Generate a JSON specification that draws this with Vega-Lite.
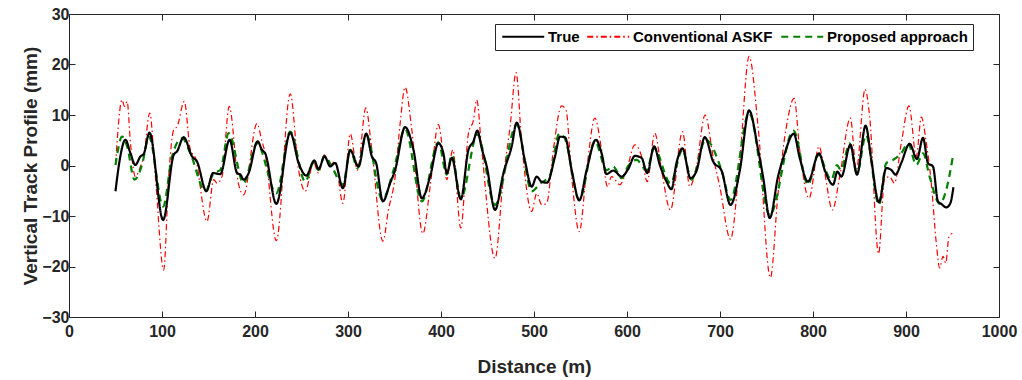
{
  "$schema": "https://vega.github.io/schema/vega-lite/v6.json",
  "autosize": {"type": "none"},
  "padding": {"left": 69, "top": 14, "right": 23, "bottom": 63},
  "width": 930,
  "height": 303,
  "background": "white",
  "config": {
    "view": {"stroke": null},
    "axis": {"domainColor": "#262626", "tickColor": "#262626", "labelColor": "#262626", "titleColor": "#262626", "labelFont": "Liberation Sans", "titleFont": "Liberation Sans", "labelFontWeight": "bold", "titleFontWeight": "bold", "labelFontSize": 16, "titleFontSize": 19, "grid": false, "tickSize": -6, "domainWidth": 1, "tickWidth": 1},
    "legend": {"orient": "none", "legendX": 426, "legendY": 10, "direction": "horizontal", "symbolType": "M-1,0H7", "symbolSize": 110, "symbolStrokeWidth": 2, "labelOffset": 33, "columnPadding": 3, "padding": 5, "strokeColor": "#262626", "fillColor": "white", "labelFont": "Liberation Sans", "labelFontWeight": "bold", "labelFontSize": 15, "labelColor": "#000000"}
  },
  "data": {"values": [
    {"s":"Conventional ASKF","d":50,"v":0.1},{"s":"Conventional ASKF","d":57.1,"v":13.0},{"s":"Conventional ASKF","d":59.6,"v":11.7},{"s":"Conventional ASKF","d":62.5,"v":12.7},{"s":"Conventional ASKF","d":66.1,"v":4.4},{"s":"Conventional ASKF","d":71.4,"v":-2.2},{"s":"Conventional ASKF","d":76.8,"v":-0.2},{"s":"Conventional ASKF","d":80.4,"v":1.8},{"s":"Conventional ASKF","d":86.8,"v":10.4},{"s":"Conventional ASKF","d":92.9,"v":-2.2},{"s":"Conventional ASKF","d":101.8,"v":-20.7},{"s":"Conventional ASKF","d":107.2,"v":-2.2},{"s":"Conventional ASKF","d":112.6,"v":7.1},{"s":"Conventional ASKF","d":116.2,"v":7.7},{"s":"Conventional ASKF","d":124.0,"v":12.7},{"s":"Conventional ASKF","d":130.5,"v":3.1},{"s":"Conventional ASKF","d":135.9,"v":1.5},{"s":"Conventional ASKF","d":148.4,"v":-11.1},{"s":"Conventional ASKF","d":155.6,"v":-2.8},{"s":"Conventional ASKF","d":159.2,"v":-3.5},{"s":"Conventional ASKF","d":164.5,"v":-2.2},{"s":"Conventional ASKF","d":172.3,"v":11.7},{"s":"Conventional ASKF","d":182.4,"v":-3.8},{"s":"Conventional ASKF","d":187.8,"v":-5.8},{"s":"Conventional ASKF","d":202.1,"v":8.3},{"s":"Conventional ASKF","d":207.5,"v":4.8},{"s":"Conventional ASKF","d":211,"v":2.4},{"s":"Conventional ASKF","d":222.9,"v":-14.9},{"s":"Conventional ASKF","d":237.9,"v":14.2},{"s":"Conventional ASKF","d":246.9,"v":-0.9},{"s":"Conventional ASKF","d":254.0,"v":-5.1},{"s":"Conventional ASKF","d":263,"v":0.6},{"s":"Conventional ASKF","d":268.3,"v":-1.5},{"s":"Conventional ASKF","d":274.4,"v":2.1},{"s":"Conventional ASKF","d":280.9,"v":0.1},{"s":"Conventional ASKF","d":286.2,"v":0.8},{"s":"Conventional ASKF","d":294.5,"v":-7.5},{"s":"Conventional ASKF","d":302.4,"v":6.3},{"s":"Conventional ASKF","d":310.2,"v":-0.9},{"s":"Conventional ASKF","d":319.2,"v":11.4},{"s":"Conventional ASKF","d":325.6,"v":3.1},{"s":"Conventional ASKF","d":337.5,"v":-15.0},{"s":"Conventional ASKF","d":343.5,"v":-8.8},{"s":"Conventional ASKF","d":350.7,"v":-2.2},{"s":"Conventional ASKF","d":356.1,"v":8.4},{"s":"Conventional ASKF","d":361.4,"v":15.5},{"s":"Conventional ASKF","d":368.6,"v":7.1},{"s":"Conventional ASKF","d":380.5,"v":-13.5},{"s":"Conventional ASKF","d":388.3,"v":-4.2},{"s":"Conventional ASKF","d":397.2,"v":8.1},{"s":"Conventional ASKF","d":401.8,"v":3.1},{"s":"Conventional ASKF","d":406.2,"v":-2.8},{"s":"Conventional ASKF","d":412.7,"v":3.1},{"s":"Conventional ASKF","d":421.3,"v":-12.4},{"s":"Conventional ASKF","d":429.5,"v":6.4},{"s":"Conventional ASKF","d":434.9,"v":9.0},{"s":"Conventional ASKF","d":438.4,"v":13.0},{"s":"Conventional ASKF","d":443.8,"v":3.1},{"s":"Conventional ASKF","d":458.1,"v":-18.4},{"s":"Conventional ASKF","d":467.1,"v":-2.2},{"s":"Conventional ASKF","d":474.3,"v":7.7},{"s":"Conventional ASKF","d":480.7,"v":18.4},{"s":"Conventional ASKF","d":486.8,"v":4.4},{"s":"Conventional ASKF","d":497.5,"v":-9.1},{"s":"Conventional ASKF","d":502.9,"v":-5.5},{"s":"Conventional ASKF","d":508.3,"v":-7.8},{"s":"Conventional ASKF","d":513.6,"v":-7.5},{"s":"Conventional ASKF","d":520.8,"v":3.1},{"s":"Conventional ASKF","d":529.7,"v":11.8},{"s":"Conventional ASKF","d":534.4,"v":11.0},{"s":"Conventional ASKF","d":540.5,"v":-2.2},{"s":"Conventional ASKF","d":548.7,"v":-13.1},{"s":"Conventional ASKF","d":556.6,"v":-0.9},{"s":"Conventional ASKF","d":565.5,"v":9.4},{"s":"Conventional ASKF","d":572.7,"v":3.1},{"s":"Conventional ASKF","d":579.1,"v":-4.2},{"s":"Conventional ASKF","d":583.4,"v":-2.2},{"s":"Conventional ASKF","d":592.4,"v":-3.8},{"s":"Conventional ASKF","d":599.6,"v":-0.9},{"s":"Conventional ASKF","d":608.5,"v":4.1},{"s":"Conventional ASKF","d":615.7,"v":1.8},{"s":"Conventional ASKF","d":621.7,"v":-3.2},{"s":"Conventional ASKF","d":629.9,"v":6.4},{"s":"Conventional ASKF","d":637.1,"v":-0.9},{"s":"Conventional ASKF","d":646.7,"v":-8.8},{"s":"Conventional ASKF","d":659.7,"v":6.7},{"s":"Conventional ASKF","d":667.5,"v":-4.2},{"s":"Conventional ASKF","d":674.7,"v":-0.2},{"s":"Conventional ASKF","d":684,"v":10.0},{"s":"Conventional ASKF","d":692.6,"v":1.8},{"s":"Conventional ASKF","d":699.8,"v":-4.2},{"s":"Conventional ASKF","d":711.3,"v":-14.6},{"s":"Conventional ASKF","d":721.3,"v":1.1},{"s":"Conventional ASKF","d":731.3,"v":21.6},{"s":"Conventional ASKF","d":741,"v":7.6},{"s":"Conventional ASKF","d":754.2,"v":-22.2},{"s":"Conventional ASKF","d":762.4,"v":-5.5},{"s":"Conventional ASKF","d":771.4,"v":7.7},{"s":"Conventional ASKF","d":779.7,"v":13.3},{"s":"Conventional ASKF","d":785.7,"v":3.1},{"s":"Conventional ASKF","d":795.7,"v":-6.5},{"s":"Conventional ASKF","d":806.5,"v":3.8},{"s":"Conventional ASKF","d":812.6,"v":-1.5},{"s":"Conventional ASKF","d":820.9,"v":-8.8},{"s":"Conventional ASKF","d":828.7,"v":-2.2},{"s":"Conventional ASKF","d":840.2,"v":9.4},{"s":"Conventional ASKF","d":846.6,"v":-0.9},{"s":"Conventional ASKF","d":856,"v":15.1},{"s":"Conventional ASKF","d":860.9,"v":9.7},{"s":"Conventional ASKF","d":870.5,"v":-17.5},{"s":"Conventional ASKF","d":876.9,"v":-2.8},{"s":"Conventional ASKF","d":882.2,"v":-2.2},{"s":"Conventional ASKF","d":887.6,"v":-3.5},{"s":"Conventional ASKF","d":894.9,"v":4.4},{"s":"Conventional ASKF","d":903.2,"v":11.8},{"s":"Conventional ASKF","d":911.1,"v":1.8},{"s":"Conventional ASKF","d":916.5,"v":9.6},{"s":"Conventional ASKF","d":921.9,"v":4.4},{"s":"Conventional ASKF","d":927.2,"v":-3.5},{"s":"Conventional ASKF","d":932.6,"v":-15.4},{"s":"Conventional ASKF","d":936.2,"v":-20.3},{"s":"Conventional ASKF","d":939.8,"v":-18.0},{"s":"Conventional ASKF","d":942.7,"v":-19.3},{"s":"Conventional ASKF","d":946.2,"v":-14.1},{"s":"Conventional ASKF","d":949.8,"v":-13.4},
    {"s":"Proposed approach","d":50,"v":0.1},{"s":"Proposed approach","d":57.1,"v":5.7},{"s":"Proposed approach","d":62.5,"v":3.8},{"s":"Proposed approach","d":70.4,"v":-2.8},{"s":"Proposed approach","d":78.6,"v":0.2},{"s":"Proposed approach","d":85.8,"v":5.7},{"s":"Proposed approach","d":101.2,"v":-8.1},{"s":"Proposed approach","d":110.8,"v":1.8},{"s":"Proposed approach","d":121.6,"v":5.4},{"s":"Proposed approach","d":130.5,"v":2.4},{"s":"Proposed approach","d":146.6,"v":-5.1},{"s":"Proposed approach","d":155.6,"v":-1.5},{"s":"Proposed approach","d":162.7,"v":-0.9},{"s":"Proposed approach","d":171.7,"v":6.4},{"s":"Proposed approach","d":187.8,"v":-3.5},{"s":"Proposed approach","d":202.1,"v":4.4},{"s":"Proposed approach","d":222.9,"v":-5.5},{"s":"Proposed approach","d":237.9,"v":6.7},{"s":"Proposed approach","d":254,"v":-3.2},{"s":"Proposed approach","d":263,"v":0.5},{"s":"Proposed approach","d":268.3,"v":-0.9},{"s":"Proposed approach","d":274.8,"v":1.9},{"s":"Proposed approach","d":282,"v":0},{"s":"Proposed approach","d":294.5,"v":-3.8},{"s":"Proposed approach","d":302.4,"v":3.1},{"s":"Proposed approach","d":310.2,"v":-0.5},{"s":"Proposed approach","d":319.6,"v":6.1},{"s":"Proposed approach","d":337,"v":-6.8},{"s":"Proposed approach","d":349,"v":-0.9},{"s":"Proposed approach","d":361.4,"v":7.2},{"s":"Proposed approach","d":379.4,"v":-7.1},{"s":"Proposed approach","d":397.2,"v":4.6},{"s":"Proposed approach","d":406.2,"v":-1.8},{"s":"Proposed approach","d":411.6,"v":2.1},{"s":"Proposed approach","d":421.3,"v":-6.5},{"s":"Proposed approach","d":439.1,"v":6.1},{"s":"Proposed approach","d":458.1,"v":-7.8},{"s":"Proposed approach","d":481.4,"v":8.1},{"s":"Proposed approach","d":497.5,"v":-5.1},{"s":"Proposed approach","d":506.4,"v":-3.6},{"s":"Proposed approach","d":517,"v":-2.0},{"s":"Proposed approach","d":527.2,"v":6.3},{"s":"Proposed approach","d":533,"v":5.4},{"s":"Proposed approach","d":548.7,"v":-6.8},{"s":"Proposed approach","d":565.5,"v":4.8},{"s":"Proposed approach","d":578,"v":-0.9},{"s":"Proposed approach","d":585.2,"v":-0.2},{"s":"Proposed approach","d":594.2,"v":-2.5},{"s":"Proposed approach","d":601,"v":-0.2},{"s":"Proposed approach","d":610.3,"v":1.1},{"s":"Proposed approach","d":621,"v":-0.9},{"s":"Proposed approach","d":629.2,"v":3.4},{"s":"Proposed approach","d":646.7,"v":-3.5},{"s":"Proposed approach","d":659.7,"v":3.1},{"s":"Proposed approach","d":669.3,"v":-2.8},{"s":"Proposed approach","d":684.7,"v":5.1},{"s":"Proposed approach","d":701.6,"v":-0.9},{"s":"Proposed approach","d":711.3,"v":-6.8},{"s":"Proposed approach","d":731.3,"v":10.4},{"s":"Proposed approach","d":753.5,"v":-9.8},{"s":"Proposed approach","d":779,"v":6.9},{"s":"Proposed approach","d":794.6,"v":-3.8},{"s":"Proposed approach","d":805.4,"v":2.1},{"s":"Proposed approach","d":819.8,"v":-2.8},{"s":"Proposed approach","d":825.8,"v":0.1},{"s":"Proposed approach","d":830,"v":-0.9},{"s":"Proposed approach","d":839.5,"v":4.4},{"s":"Proposed approach","d":847.3,"v":-1.5},{"s":"Proposed approach","d":857,"v":6.0},{"s":"Proposed approach","d":870.9,"v":-7.8},{"s":"Proposed approach","d":878.8,"v":0.5},{"s":"Proposed approach","d":886,"v":1.1},{"s":"Proposed approach","d":894.9,"v":2.4},{"s":"Proposed approach","d":902.1,"v":4.4},{"s":"Proposed approach","d":911.1,"v":0.1},{"s":"Proposed approach","d":918.3,"v":2.4},{"s":"Proposed approach","d":925.4,"v":-2.2},{"s":"Proposed approach","d":936.2,"v":-7.6},{"s":"Proposed approach","d":943.3,"v":-4.8},{"s":"Proposed approach","d":950.4,"v":1.8},
    {"s":"True","d":50,"v":-5.1},{"s":"True","d":54,"v":0.5},{"s":"True","d":60.7,"v":5.1},{"s":"True","d":66.1,"v":2.4},{"s":"True","d":71.4,"v":0.1},{"s":"True","d":76.8,"v":1.8},{"s":"True","d":80.4,"v":2.3},{"s":"True","d":86.5,"v":6.5},{"s":"True","d":101.2,"v":-10.8},{"s":"True","d":112.6,"v":2.1},{"s":"True","d":116.2,"v":2.8},{"s":"True","d":123.3,"v":5.6},{"s":"True","d":132.3,"v":1.8},{"s":"True","d":137.6,"v":0.8},{"s":"True","d":147.7,"v":-5.1},{"s":"True","d":154.9,"v":-1.5},{"s":"True","d":162.7,"v":-1.7},{"s":"True","d":172.7,"v":5.1},{"s":"True","d":180.7,"v":-1.5},{"s":"True","d":184.3,"v":-1.8},{"s":"True","d":187.8,"v":-2.8},{"s":"True","d":193.2,"v":-1.5},{"s":"True","d":202.8,"v":4.8},{"s":"True","d":207.5,"v":3.1},{"s":"True","d":211,"v":2.4},{"s":"True","d":222.9,"v":-7.6},{"s":"True","d":237.9,"v":6.5},{"s":"True","d":246.9,"v":0.5},{"s":"True","d":255.1,"v":-2.0},{"s":"True","d":263.7,"v":1.0},{"s":"True","d":268.3,"v":-0.7},{"s":"True","d":274.8,"v":1.8},{"s":"True","d":280.9,"v":-0.2},{"s":"True","d":286.2,"v":0.5},{"s":"True","d":294.5,"v":-4.5},{"s":"True","d":302.4,"v":3.0},{"s":"True","d":311.3,"v":-0.2},{"s":"True","d":319.6,"v":6.3},{"s":"True","d":325.6,"v":1.8},{"s":"True","d":330.2,"v":0.5},{"s":"True","d":337.5,"v":-7.1},{"s":"True","d":345.3,"v":-3.5},{"s":"True","d":350.7,"v":-0.9},{"s":"True","d":361.4,"v":7.6},{"s":"True","d":370.4,"v":3.1},{"s":"True","d":379.4,"v":-6.5},{"s":"True","d":388.3,"v":-2.2},{"s":"True","d":397.2,"v":4.4},{"s":"True","d":402.6,"v":2.4},{"s":"True","d":406.2,"v":-1.5},{"s":"True","d":411.6,"v":1.5},{"s":"True","d":421.3,"v":-6.7},{"s":"True","d":429.5,"v":3.1},{"s":"True","d":434.9,"v":4.8},{"s":"True","d":439.1,"v":6.9},{"s":"True","d":443.8,"v":3.4},{"s":"True","d":449.2,"v":-0.2},{"s":"True","d":458.1,"v":-8.8},{"s":"True","d":467.1,"v":-1.5},{"s":"True","d":476.0,"v":3.8},{"s":"True","d":481.4,"v":8.5},{"s":"True","d":490.4,"v":0.8},{"s":"True","d":497.5,"v":-4.2},{"s":"True","d":502.9,"v":-2.2},{"s":"True","d":508,"v":-3.2},{"s":"True","d":514,"v":-3.4},{"s":"True","d":522.6,"v":1.8},{"s":"True","d":527.9,"v":5.7},{"s":"True","d":533.3,"v":5.6},{"s":"True","d":540.5,"v":-0.9},{"s":"True","d":548.7,"v":-6.9},{"s":"True","d":556.6,"v":-0.9},{"s":"True","d":566.6,"v":5.1},{"s":"True","d":572.7,"v":2.4},{"s":"True","d":578.0,"v":-1.7},{"s":"True","d":585.2,"v":-1.0},{"s":"True","d":594.2,"v":-2.2},{"s":"True","d":601.3,"v":-0.7},{"s":"True","d":608.5,"v":1.9},{"s":"True","d":615.7,"v":1.5},{"s":"True","d":621.7,"v":-1.5},{"s":"True","d":629.2,"v":3.8},{"s":"True","d":635.3,"v":0.1},{"s":"True","d":642.5,"v":-3.2},{"s":"True","d":647.8,"v":-4.7},{"s":"True","d":653.2,"v":0.5},{"s":"True","d":659.7,"v":3.4},{"s":"True","d":668.2,"v":-2.5},{"s":"True","d":674.7,"v":-1.1},{"s":"True","d":683.7,"v":5.6},{"s":"True","d":692.6,"v":0.8},{"s":"True","d":701.6,"v":-1.0},{"s":"True","d":711.3,"v":-7.8},{"s":"True","d":721.3,"v":-1.0},{"s":"True","d":731.3,"v":10.9},{"s":"True","d":741,"v":3.1},{"s":"True","d":746.3,"v":-2.2},{"s":"True","d":753.5,"v":-10.4},{"s":"True","d":762.4,"v":-2.2},{"s":"True","d":769.6,"v":2.4},{"s":"True","d":779.3,"v":6.3},{"s":"True","d":785.7,"v":1.5},{"s":"True","d":794.6,"v":-3.2},{"s":"True","d":806.5,"v":2.4},{"s":"True","d":812.6,"v":-0.9},{"s":"True","d":821.6,"v":-3.8},{"s":"True","d":826.2,"v":-1.2},{"s":"True","d":830.5,"v":-2.2},{"s":"True","d":840.2,"v":4.1},{"s":"True","d":847.3,"v":-1.8},{"s":"True","d":856.6,"v":7.9},{"s":"True","d":862.7,"v":1.1},{"s":"True","d":870.9,"v":-7.3},{"s":"True","d":878.8,"v":-0.5},{"s":"True","d":884.2,"v":-0.9},{"s":"True","d":888.8,"v":-1.8},{"s":"True","d":894.9,"v":0.5},{"s":"True","d":903.9,"v":4.3},{"s":"True","d":911.8,"v":1.3},{"s":"True","d":918.3,"v":5.5},{"s":"True","d":923.6,"v":0.5},{"s":"True","d":929,"v":-0.2},{"s":"True","d":934.4,"v":-7.1},{"s":"True","d":937.9,"v":-7.6},{"s":"True","d":943.3,"v":-8.3},{"s":"True","d":947.6,"v":-7.5},{"s":"True","d":951,"v":-4.3}
  ]},
  "layer": [
    {
      "transform": [{"filter": "datum.s === 'Conventional ASKF'"}],
      "mark": {"type": "line", "interpolate": "monotone", "clip": true, "strokeWidth": 1.2},
      "encoding": {
        "x": {"field": "d", "type": "quantitative", "scale": {"domain": [0, 1000], "nice": false}, "axis": {"title": "Distance (m)", "values": [0,100,200,300,400,500,600,700,800,900,1000], "format": "d", "labelPadding": 12, "titlePadding": 18, "labelFlush": false}},
        "y": {"field": "v", "type": "quantitative", "scale": {"domain": [-30, 30], "nice": false}, "axis": {"title": "Vertical Track Profile (mm)", "values": [-30,-20,-10,0,10,20,30], "labelPadding": 6, "titlePadding": 1}},
        "color": {"field": "s", "type": "nominal", "title": null, "scale": {"domain": ["True", "Conventional ASKF", "Proposed approach"], "range": ["#000000", "#ff0000", "#008000"]}},
        "strokeDash": {"field": "s", "type": "nominal", "title": null, "scale": {"domain": ["True", "Conventional ASKF", "Proposed approach"], "range": [[1, 0], [6, 3, 1.5, 3], [7, 5]]}}
      }
    },
    {
      "transform": [{"filter": "datum.s === 'Proposed approach'"}],
      "mark": {"type": "line", "interpolate": "monotone", "clip": true, "strokeWidth": 2.2},
      "encoding": {
        "x": {"field": "d", "type": "quantitative", "axis": null},
        "y": {"field": "v", "type": "quantitative", "axis": null},
        "color": {"field": "s", "type": "nominal", "title": null},
        "strokeDash": {"field": "s", "type": "nominal", "title": null}
      }
    },
    {
      "transform": [{"filter": "datum.s === 'True'"}],
      "mark": {"type": "line", "interpolate": "monotone", "clip": true, "strokeWidth": 2.2},
      "encoding": {
        "x": {"field": "d", "type": "quantitative", "axis": null},
        "y": {"field": "v", "type": "quantitative", "axis": null},
        "color": {"field": "s", "type": "nominal", "title": null},
        "strokeDash": {"field": "s", "type": "nominal", "title": null}
      }
    },
    {
      "mark": {"type": "line", "opacity": 0},
      "encoding": {
        "x": {"field": "d", "type": "quantitative", "axis": {"orient": "top", "title": null, "labels": false, "values": [0,100,200,300,400,500,600,700,800,900,1000]}},
        "y": {"field": "v", "type": "quantitative", "axis": {"orient": "right", "title": null, "labels": false, "values": [-30,-20,-10,0,10,20,30]}}
      }
    }
  ],
  "resolve": {"axis": {"x": "independent", "y": "independent"}}
}
